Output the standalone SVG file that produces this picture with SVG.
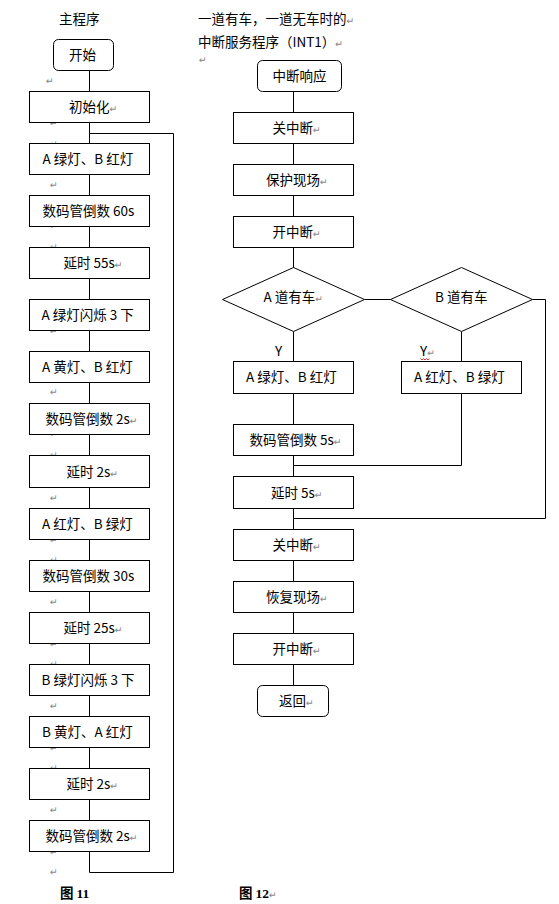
<svg xmlns="http://www.w3.org/2000/svg" width="559" height="904" viewBox="0 0 559 904">
<style>
text{font-family:"Noto Sans CJK SC","Noto Sans",sans-serif;font-size:13.5px;fill:#000}
.pm{font-family:"DejaVu Sans",sans-serif;font-size:9.5px;fill:#8a8a8a}
.box{fill:#fff;stroke:#000;stroke-width:1}
.ln{fill:none;stroke:#000;stroke-width:1}
.cap{font-weight:bold}
</style>
<rect width="559" height="904" fill="#fff"/>
<g id="marks">
<text class="pm" x="46" y="84">↵</text>
<text class="pm" x="50" y="126">↵</text><text class="pm" x="50" y="147">↵</text>
<text class="pm" x="50" y="188">↵</text>
<text class="pm" x="50" y="229">↵</text><text class="pm" x="50" y="250">↵</text>
<text class="pm" x="50" y="334">↵</text>
<text class="pm" x="50" y="395">↵</text>
<text class="pm" x="50" y="437">↵</text><text class="pm" x="50" y="458">↵</text>
<text class="pm" x="50" y="501">↵</text>
<text class="pm" x="50" y="543">↵</text><text class="pm" x="50" y="563">↵</text>
<text class="pm" x="50" y="605">↵</text>
<text class="pm" x="50" y="647">↵</text><text class="pm" x="50" y="667">↵</text>
<text class="pm" x="50" y="709">↵</text>
<text class="pm" x="50" y="751">↵</text><text class="pm" x="50" y="771">↵</text>
<text class="pm" x="50" y="813">↵</text>
<text class="pm" x="50" y="855">↵</text>
<text class="pm" x="50" y="875">↵</text>
<text class="pm" x="199" y="63">↵</text>
</g>
<g id="titles">
<text x="59" y="24">主程序</text>
<text x="198" y="24">一道有车，一道无车时的<tspan class="pm">↵</tspan></text>
<text x="198" y="46.5">中断服务程序（INT1）<tspan class="pm">↵</tspan></text>
<text class="cap" x="60" y="898">图<tspan dx="3" font-family="Liberation Serif">11</tspan></text>
<text class="cap" x="239" y="898">图<tspan dx="3" font-family="Liberation Serif">12</tspan><tspan class="pm" font-weight="normal">↵</tspan></text>
</g>
<g id="connectors" class="ln">
<path d="M89.5 70.5V872.5H173.5V133.5H89.5"/>
<path d="M293.5 91.5V685.5"/>
<path d="M364.5 299.5H390.5"/>
<path d="M461.5 331.5V361.5"/>
<path d="M461.5 393.5V465.5H293.5"/>
<path d="M532.5 299.5H545.5V518.5H293.5"/>
<polyline points="420.5,358.5 422,360 423.5,358.5 425,360 426.5,358.5 428,360 429.5,358.5" stroke="#e00000" stroke-width="0.8"/>
</g>
<g id="n_start"><rect class="box" x="53.5" y="39.5" width="60" height="31" rx="5"/><text x="69" y="60">开始</text></g>
<g id="n_init"><rect class="box" x="29.5" y="91.5" width="120" height="31"/><text x="69" y="112">初始化<tspan class="pm">↵</tspan></text></g>
<g id="n_l1"><rect class="box" x="29.5" y="143.5" width="120" height="31"/><text x="42.5" y="164">A 绿灯、B 红灯</text></g>
<g id="n_l2"><rect class="box" x="29.5" y="195.5" width="120" height="31"/><text x="42.5" y="216">数码管倒数 60s</text></g>
<g id="n_l3"><rect class="box" x="29.5" y="247.5" width="120" height="31"/><text x="63.5" y="268">延时 55s<tspan class="pm">↵</tspan></text></g>
<g id="n_l4"><rect class="box" x="29.5" y="299.5" width="120" height="31"/><text x="41.5" y="320">A 绿灯闪烁 3 下</text></g>
<g id="n_l5"><rect class="box" x="29.5" y="351.5" width="120" height="31"/><text x="42" y="372">A 黄灯、B 红灯</text></g>
<g id="n_l6"><rect class="box" x="29.5" y="403.5" width="120" height="31"/><text x="45.5" y="424">数码管倒数 2s<tspan class="pm">↵</tspan></text></g>
<g id="n_l7"><rect class="box" x="29.5" y="455.5" width="120" height="32"/><text x="66.5" y="476.5">延时 2s<tspan class="pm">↵</tspan></text></g>
<g id="n_l8"><rect class="box" x="29.5" y="508.5" width="120" height="31"/><text x="42" y="529">A 红灯、B 绿灯</text></g>
<g id="n_l9"><rect class="box" x="29.5" y="560.5" width="120" height="31"/><text x="42.5" y="581">数码管倒数 30s</text></g>
<g id="n_l10"><rect class="box" x="29.5" y="612.5" width="120" height="31"/><text x="63.5" y="633">延时 25s<tspan class="pm">↵</tspan></text></g>
<g id="n_l11"><rect class="box" x="29.5" y="664.5" width="120" height="31"/><text x="41.5" y="685">B 绿灯闪烁 3 下</text></g>
<g id="n_l12"><rect class="box" x="29.5" y="716.5" width="120" height="31"/><text x="42" y="737">B 黄灯、A 红灯</text></g>
<g id="n_l13"><rect class="box" x="29.5" y="768.5" width="120" height="31"/><text x="66.5" y="789">延时 2s<tspan class="pm">↵</tspan></text></g>
<g id="n_l14"><rect class="box" x="29.5" y="820.5" width="120" height="31"/><text x="45.5" y="841">数码管倒数 2s<tspan class="pm">↵</tspan></text></g>
<g id="n_irq"><rect class="box" x="257.5" y="60.5" width="84" height="31" rx="5"/><text x="272.5" y="81">中断响应</text></g>
<g id="n_r1"><rect class="box" x="233.5" y="112.5" width="120" height="31"/><text x="272.5" y="133">关中断<tspan class="pm">↵</tspan></text></g>
<g id="n_r2"><rect class="box" x="233.5" y="164.5" width="120" height="31"/><text x="266" y="185">保护现场<tspan class="pm">↵</tspan></text></g>
<g id="n_r3"><rect class="box" x="233.5" y="216.5" width="120" height="31"/><text x="272.5" y="237">开中断<tspan class="pm">↵</tspan></text></g>
<g id="n_da"><polygon class="box" points="293.5,267.5 364.5,299.5 293.5,331.5 222.5,299.5"/><text x="263.5" y="302">A 道有车<tspan class="pm">↵</tspan></text></g>
<g id="n_db"><polygon class="box" points="461.5,267.5 532.5,299.5 461.5,331.5 390.5,299.5"/><text x="435" y="302">B 道有车</text></g>
<g id="labels_y"><text x="275" y="355.5">Y</text><text x="420" y="355.5">Y<tspan class="pm">↵</tspan></text></g>
<g id="n_r4"><rect class="box" x="233.5" y="361.5" width="120" height="32"/><text x="246" y="382">A 绿灯、B 红灯</text></g>
<g id="n_r4b"><rect class="box" x="401.5" y="361.5" width="120" height="32"/><text x="414" y="382">A 红灯、B 绿灯</text></g>
<g id="n_r5"><rect class="box" x="233.5" y="424.5" width="120" height="31"/><text x="249.5" y="445">数码管倒数 5s<tspan class="pm">↵</tspan></text></g>
<g id="n_r6"><rect class="box" x="233.5" y="476.5" width="120" height="32"/><text x="271" y="497.5">延时 5s<tspan class="pm">↵</tspan></text></g>
<g id="n_r7"><rect class="box" x="233.5" y="529.5" width="120" height="31"/><text x="272.5" y="550">关中断<tspan class="pm">↵</tspan></text></g>
<g id="n_r8"><rect class="box" x="233.5" y="581.5" width="120" height="31"/><text x="266" y="602">恢复现场<tspan class="pm">↵</tspan></text></g>
<g id="n_r9"><rect class="box" x="233.5" y="633.5" width="120" height="31"/><text x="272.5" y="654">开中断<tspan class="pm">↵</tspan></text></g>
<g id="n_ret"><rect class="box" x="257.5" y="685.5" width="71" height="31" rx="5"/><text x="279" y="706">返回<tspan class="pm">↵</tspan></text></g>
</svg>
